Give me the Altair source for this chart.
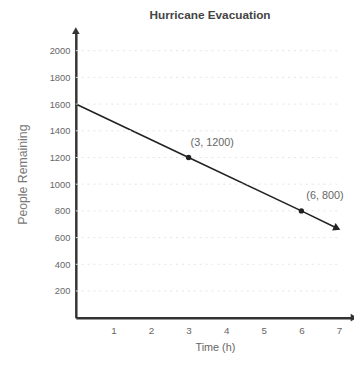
import altair as alt
import pandas as pd

# Data
pt_x = [0, 3, 6]
pt_y = [1600, 1200, 800]
line_end_x = [6.95]
line_end_y = [670]
labels = ["", "(3, 1200)", "(6, 800)"]
y_ticks = [200, 400, 600, 800, 1000, 1200, 1400, 1600, 1800, 2000]
x_ticks = [1, 2, 3, 4, 5, 6, 7]
x_max = 7.4
y_max = 2150

line_df = pd.DataFrame({"t": pt_x + line_end_x, "p": pt_y + line_end_y})
pts_df = pd.DataFrame({"t": pt_x[1:], "p": pt_y[1:], "lab": labels[1:]})
end_df = pd.DataFrame({"t": line_end_x, "p": line_end_y})
grid_df = pd.DataFrame({"p": y_ticks})
yarrow_df = pd.DataFrame({"t": [0], "p": [y_max]})
xarrow_df = pd.DataFrame({"t": [x_max], "p": [0]})

xs = alt.Scale(domain=[0, x_max], nice=False, zero=False)
ys = alt.Scale(domain=[0, y_max], nice=False)

X = alt.X("t:Q", scale=xs,
          axis=alt.Axis(values=x_ticks, title="Time (h)", grid=False, ticks=False,
                        format="d", labelOverlap=False,
                        domainColor="#333", domainWidth=2.5, labelColor="#666",
                        labelFont="Liberation Sans", labelFontSize=10, labelPadding=8,
                        titleFont="Liberation Sans", titleFontSize=11, titleColor="#666",
                        titleFontWeight="normal", titlePadding=6))
Y = alt.Y("p:Q", scale=ys,
          axis=alt.Axis(values=y_ticks, title="People Remaining", grid=False, ticks=False,
                        format="d", labelOverlap=False,
                        domainColor="#333", domainWidth=2.5, labelColor="#666",
                        labelFont="Liberation Sans", labelFontSize=9.5, labelPadding=6,
                        titleFont="Liberation Sans", titleFontSize=12.5, titleColor="#777",
                        titleFontWeight="normal", titlePadding=20))

line = alt.Chart(line_df).mark_line(color="#222", strokeWidth=1.6).encode(x=X, y=Y)

grid = alt.Chart(grid_df).mark_rule(color="#e4e4e4", strokeDash=[2, 4], strokeWidth=1).encode(
    y=Y, x=alt.value(0), x2=alt.value(270))

points = alt.Chart(pts_df).mark_point(filled=True, color="#222", size=30, opacity=1).encode(
    x=X, y=Y)

texts = alt.Chart(pts_df).mark_text(dx=24, dy=-15, fontSize=11, color="#666",
                                    font="Liberation Sans").encode(
    x=X, y=Y, text="lab:N")

end_arrow = alt.Chart(end_df).mark_point(shape="triangle-right", filled=True, color="#222",
                                         size=70, angle=25, opacity=1).encode(x=X, y=Y)

yarrow = alt.Chart(yarrow_df).mark_point(shape="triangle-up", filled=True, color="#333",
                                         size=60, opacity=1).encode(x=X, y=Y)

xarrow = alt.Chart(xarrow_df).mark_point(shape="triangle-right", filled=True, color="#333",
                                         size=60, opacity=1).encode(x=X, y=Y)

chart = alt.layer(line, grid, points, texts, end_arrow, yarrow, xarrow).properties(
    width=283, height=292,
    title=alt.TitleParams("Hurricane Evacuation", anchor="middle", fontSize=12,
                          font="Liberation Sans", fontWeight="bold", color="#444", offset=6,
                          dx=-5),
    autosize=alt.AutoSizeParams(type="none"),
    padding={"left": 69, "top": 20, "right": 0, "bottom": 40},
).configure_view(stroke=None).configure_axis(labelOverlap=False)

chart.save("out.html", embed_options={"renderer": "svg", "actions": False})
